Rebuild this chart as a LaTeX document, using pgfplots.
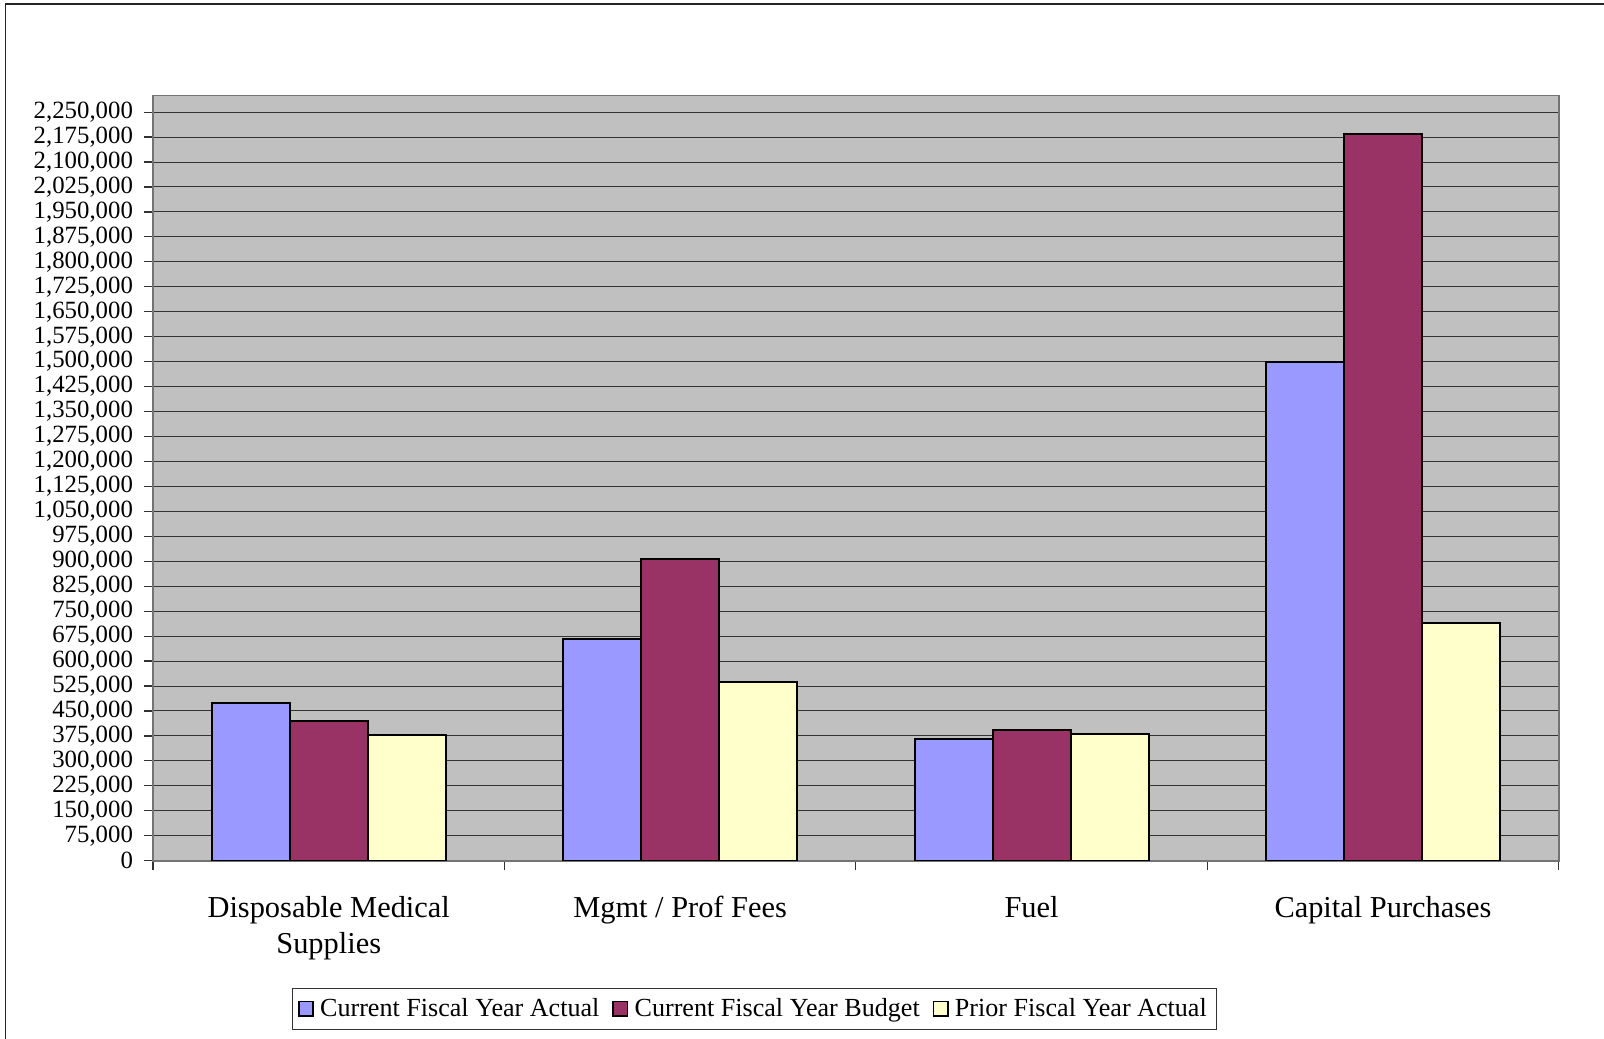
\documentclass[border=0pt]{standalone}
\usepackage{fontspec}
\setmainfont{Liberation Serif}
\usepackage{pgfplots}
\pgfplotsset{compat=1.18}
\definecolor{cfa}{HTML}{9999FF}
\definecolor{cfb}{HTML}{993366}
\definecolor{pfa}{HTML}{FFFFCC}
\definecolor{plotbg}{HTML}{C0C0C0}
\begin{document}
\begin{tikzpicture}
\path[use as bounding box] (-76.5pt,-88.65pt) rectangle (725.5pt,430.35pt);
\draw[line width=0.8pt, black!85] (-73.8pt,-95pt) -- (-73.8pt,428.3pt) -- (730pt,428.3pt);
\begin{axis}[
  at={(0pt,0pt)}, anchor=south west,
  scale only axis,
  width=702.85pt, height=382.6pt,
  xmin=-0.5, xmax=3.5,
  ymin=0, ymax=2300000,
  axis background/.style={fill=plotbg},
  axis line style={draw=gray!90!black, line width=0.9pt},
  ybar=0pt, bar width=39pt,
  ytick={0,75000,...,2250000},
  ymajorgrids,
  grid style={draw=black!80, line width=0.5pt},
  xtick={0,1,2,3},
  xticklabels={Disposable Medical\\Supplies, Mgmt / Prof Fees, Fuel, Capital Purchases},
  minor xtick={-0.5,0.5,1.5,2.5,3.5},
  xtick pos=bottom, ytick pos=left,
  major x tick style={draw=none},
  minor x tick style={draw=black!80, line width=0.6pt},
  y tick style={draw=black!80, line width=0.6pt},
  tick align=outside,
  major tick length=4.5pt, minor tick length=4.5pt,
  scaled y ticks=false,
  /pgf/number format/fixed,
  /pgf/number format/precision=0,
  /pgf/number format/1000 sep={,},
  /pgf/number format/assume math mode=true,
  yticklabel style={font=\fontsize{12.4}{13}\selectfont, xshift=-2pt},
  xticklabel style={font=\fontsize{15.2}{18.3}\selectfont, align=center, anchor=north, yshift=-9.6pt},
  legend style={at={(0.4278,-0.1935)}, anchor=center, draw=black!80, fill=white,
    font=\fontsize{13.05}{14}\selectfont, inner sep=3pt,
    /tikz/every even column/.append style={column sep=4.5pt}},
  legend columns=3,
  legend image code/.code={\path[draw=none,fill=none] (0pt,0pt) rectangle (8.7pt,0.1pt);\draw[#1, line width=0.8pt] (0pt,-3.6pt) rectangle (7.2pt,3.6pt);},
  legend cell align=left,
]
\addplot[draw=black, line width=1pt, fill=cfa] coordinates {(0,474000) (1,667500) (2,364500) (3,1500000)};
\addplot[draw=black, line width=1pt, fill=cfb] coordinates {(0,421000) (1,905500) (2,393000) (3,2184000)};
\addplot[draw=black, line width=1pt, fill=pfa] coordinates {(0,378000) (1,538500) (2,381000) (3,713500)};
\legend{Current Fiscal Year Actual, Current Fiscal Year Budget, Prior Fiscal Year Actual}
\end{axis}
\end{tikzpicture}
\end{document}
